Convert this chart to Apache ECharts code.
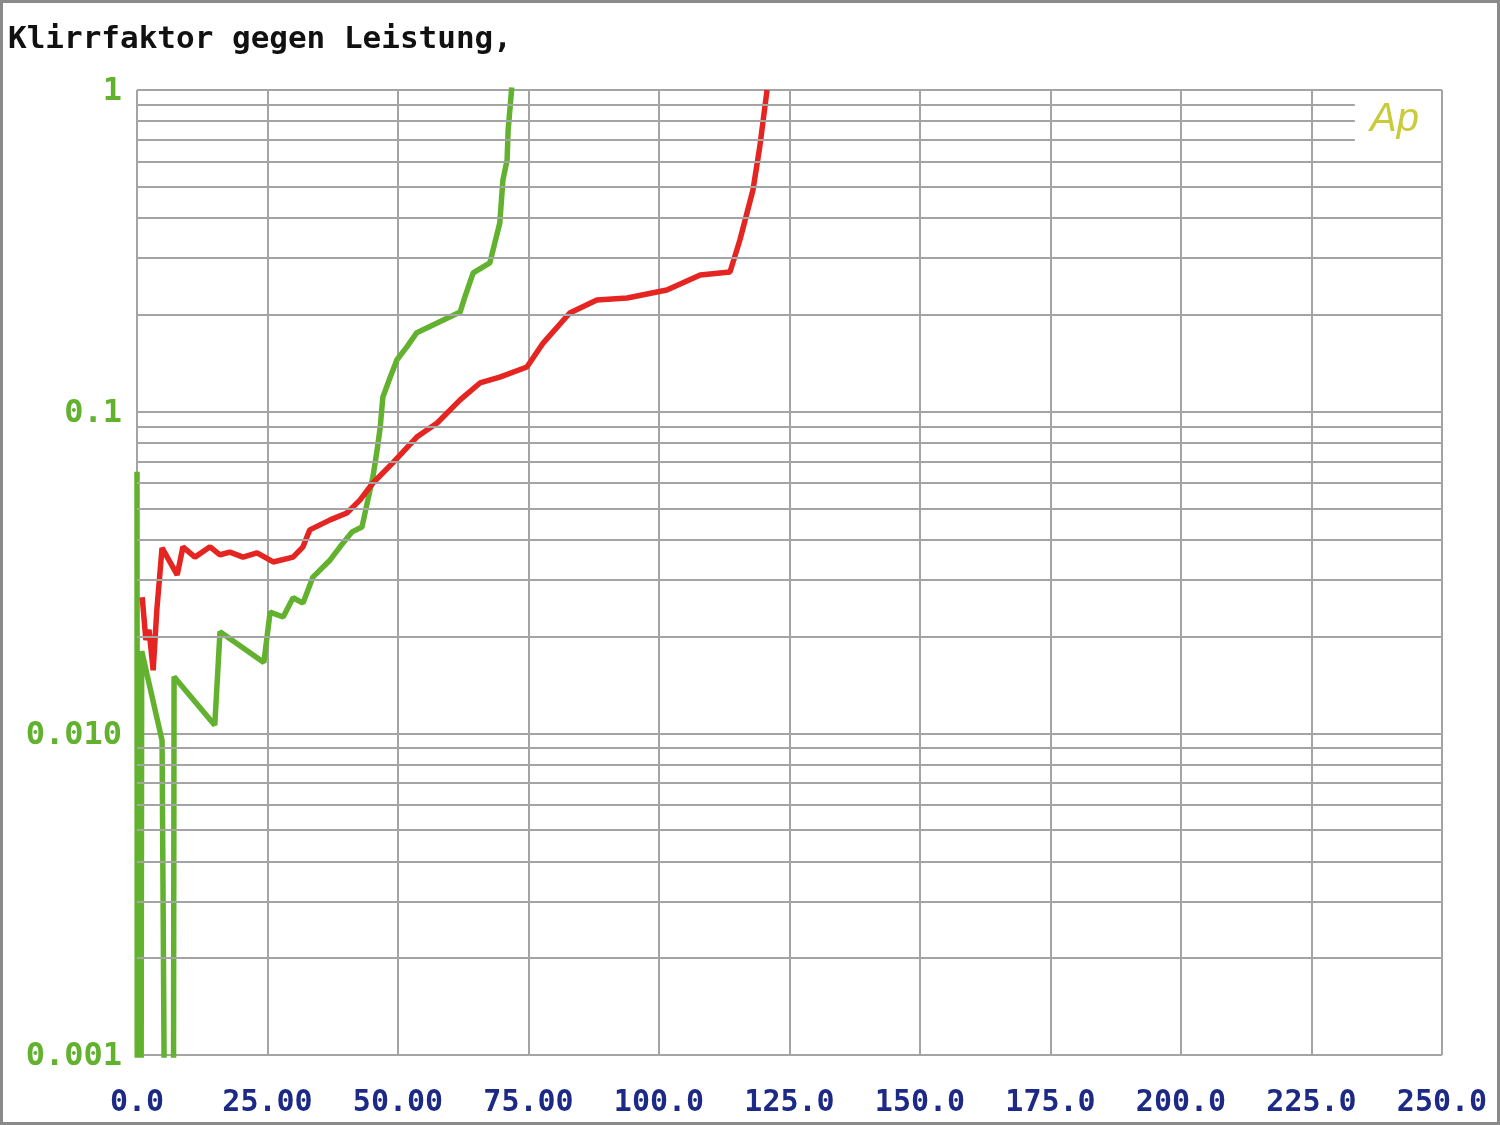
<!DOCTYPE html>
<html>
<head>
<meta charset="utf-8">
<script src="https://cdn.jsdelivr.net/npm/echarts@6/dist/echarts.min.js"></script>
<style>
html,body{margin:0;padding:0;background:#fff;}
#c{width:1500px;height:1125px;}
</style>
</head>
<body>
<div id="c"></div>
<script>
// ---- data ----
const titleText = 'Klirrfaktor gegen Leistung,';
const xTickValues = [0, 25, 50, 75, 100, 125, 150, 175, 200, 225, 250];
const xTickLabels = ['0.0', '25.00', '50.00', '75.00', '100.0', '125.0', '150.0', '175.0', '200.0', '225.0', '250.0'];
const yTickValues = [0.001, 0.01, 0.1, 1];
const yTickLabels = ['0.001', '0.010', '0.1', '1'];
const yMinorFull = [0.002, 0.003, 0.004, 0.005, 0.006, 0.007, 0.008, 0.009,
                    0.02, 0.03, 0.04, 0.05, 0.06, 0.07, 0.08, 0.09,
                    0.2, 0.3, 0.4, 0.5, 0.6];
const yMinorShort = [0.7, 0.8, 0.9];

const greenX = [0, 0.05, 0.8, 0.9, 4.8, 5.0, 5.2, 7.0, 7.1, 14.9, 15.9, 24.3, 25.5, 28.0, 29.9, 31.8, 33.7, 37.0, 38.9, 41.2, 43.1, 44.1, 45.2, 46.0, 46.6, 47.1, 48.5, 49.8, 51.7, 53.6, 56.7, 61.9, 62.8, 64.4, 67.6, 68.2, 69.5, 70.1, 70.9, 71.1, 71.8];
const greenY = [0.065, 0.0009, 0.0009, 0.018, 0.0095, 0.003, 0.0009, 0.0009, 0.015, 0.0106, 0.0207, 0.0166, 0.0238, 0.0230, 0.0264, 0.0254, 0.0306, 0.0346, 0.0380, 0.0423, 0.0438, 0.0520, 0.0627, 0.0760, 0.0896, 0.111, 0.128, 0.145, 0.159, 0.176, 0.186, 0.204, 0.227, 0.270, 0.290, 0.318, 0.386, 0.525, 0.606, 0.751, 1.02];

const redX = [1.0, 1.7, 2.3, 3.1, 3.8, 4.8, 7.7, 8.8, 11.1, 14.0, 15.9, 17.8, 20.3, 23.0, 26.1, 29.9, 31.8, 33.1, 37.0, 40.2, 42.7, 45.2, 49.0, 53.6, 57.5, 61.9, 65.7, 69.5, 74.7, 77.8, 82.9, 88.1, 93.9, 101.5, 107.9, 113.6, 115.5, 118.0, 119.3, 120.7];
const redY = [0.0265, 0.0195, 0.021, 0.0157, 0.0242, 0.0377, 0.0311, 0.038, 0.0353, 0.038, 0.0359, 0.0366, 0.0353, 0.0364, 0.0341, 0.0353, 0.038, 0.0429, 0.0461, 0.0484, 0.0531, 0.060, 0.0693, 0.0834, 0.0922, 0.1088, 0.1228, 0.128, 0.1377, 0.1634, 0.2027, 0.2224, 0.2256, 0.2389, 0.266, 0.2718, 0.3418, 0.4888, 0.665, 1.0];

// ---- build ----
const GRID = '#a4a4a4';
const GREEN = '#62b22f';
const RED = '#e52521';
const MONO = '"DejaVu Sans Mono", "Liberation Mono", monospace';

const zip = (xs, ys) => xs.map((x, i) => [x, ys[i]]);
const minorLines = yMinorFull.map(v => [{coord: [0, v]}, {coord: [250, v]}])
  .concat(yMinorShort.map(v => [{coord: [0, v]}, {coord: [233.3, v]}]));

const chart = echarts.init(document.getElementById('c'), null, {renderer: 'canvas'});
chart.setOption({
  animation: false,
  backgroundColor: '#fff',
  title: {
    text: titleText, left: 8, top: 24, padding: 0,
    textStyle: {fontFamily: MONO, fontSize: 31, fontWeight: 'bold', color: '#111'}
  },
  grid: {left: 137, top: 90, right: 58, bottom: 70},
  xAxis: {
    type: 'value', min: 0, max: 250, interval: 25,
    axisLine: {show: false}, axisTick: {show: false},
    splitLine: {show: true, lineStyle: {color: GRID, width: 2}},
    axisLabel: {
      margin: 33, fontFamily: MONO, fontSize: 30, fontWeight: 'bold', color: '#1c2a86',
      formatter: v => xTickLabels[xTickValues.indexOf(v)] || ''
    }
  },
  yAxis: {
    type: 'log', logBase: 10, min: 0.001, max: 1,
    axisLine: {show: false}, axisTick: {show: false},
    splitLine: {show: true, lineStyle: {color: GRID, width: 2}},
    axisLabel: {
      margin: 15, fontFamily: MONO, fontSize: 32, fontWeight: 'bold',
      formatter: v => {
        let i = yTickValues.findIndex(t => Math.abs(Math.log10(t) - Math.log10(v)) < 1e-6);
        if (i < 0) return '';
        return (i === 2 ? '{a|' : '{b|') + yTickLabels[i] + '}';
      },
      rich: {
        a: {fontFamily: MONO, fontSize: 32, fontWeight: 'bold', color: GREEN, padding: [4, 0, 0, 0]},
        b: {fontFamily: MONO, fontSize: 32, fontWeight: 'bold', color: GREEN, padding: [4, 0, 0, 0],
            textShadowColor: RED, textShadowOffsetX: -2, textShadowOffsetY: 2, textShadowBlur: 0}
      }
    }
  },
  series: [
    {
      type: 'line', data: [], z: 1, silent: true,
      markLine: {
        silent: true, symbol: ['none', 'none'], label: {show: false},
        lineStyle: {color: GRID, width: 2, type: 'solid'},
        data: minorLines
      }
    },
    {
      type: 'line', data: zip(greenX, greenY), showSymbol: false, clip: true, z: 3,
      lineStyle: {color: GREEN, width: 5.5}, itemStyle: {color: GREEN}
    },
    {
      type: 'line', data: zip(redX, redY), showSymbol: false, clip: true, z: 4,
      lineStyle: {color: RED, width: 5.5}, itemStyle: {color: RED}
    }
  ],
  graphic: [
    {type: 'rect', shape: {x: 1.5, y: 1.5, width: 1497, height: 1122}, style: {fill: 'none', stroke: '#8a8a8a', lineWidth: 3}, z: 10},
    {type: 'text', left: 1370, top: 100, style: {text: 'Ap', font: 'italic 40px "Liberation Sans", sans-serif', fill: '#c9cb3a'}, z: 10}
  ]
});
</script>
</body>
</html>
